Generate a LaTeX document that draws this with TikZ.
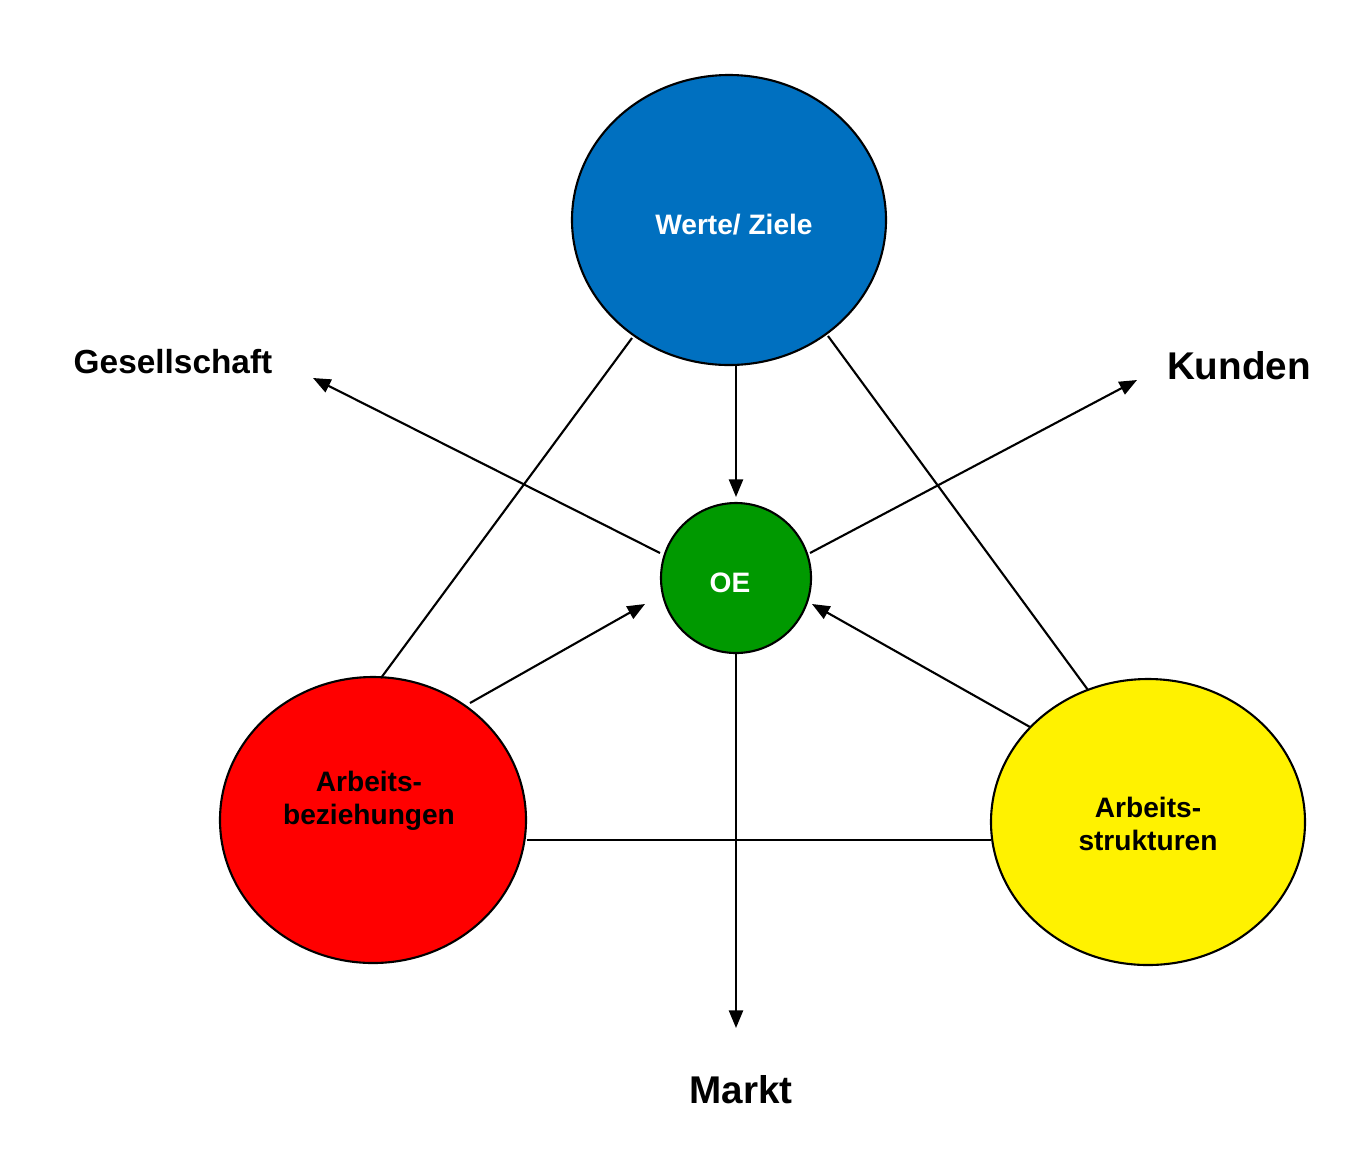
\documentclass[tikz,border=0pt]{standalone}
\usepackage{fontspec}
\setmainfont{Liberation Sans}
\usetikzlibrary{arrows.meta}
\definecolor{cblue}{RGB}{0,112,192}
\definecolor{cgreen}{RGB}{0,153,0}
\begin{document}
\begin{tikzpicture}[x=0.02cm,y=-0.02cm,
  ball/.style={draw=black,line width=1.2pt},
  lbl/.style={font=\bfseries,align=center},
  arr/.style={line width=1.2pt,-{Triangle[length=10pt,width=8pt]}},
  ln/.style={line width=1.2pt}]
\useasboundingbox (0,0) rectangle (1372,1171);
\fill[ball,fill=cblue] (729,220) ellipse [x radius=157,y radius=145];
\node[lbl,text=white,font=\bfseries\fontsize{16}{19}\selectfont] (w) at (734,225) {Werte/ Ziele};
\fill[ball,fill=red] (373,820) ellipse [x radius=153,y radius=143];
\node[lbl,font=\bfseries\fontsize{16}{19}\selectfont] (a) at (369,801) {Arbeits-\\beziehungen};
\fill[ball,fill=yellow] (1148,822) ellipse [x radius=157,y radius=143];
\node[lbl,font=\bfseries\fontsize{16}{19}\selectfont] (s) at (1148,824) {Arbeits-\\strukturen};
\fill[ball,fill=cgreen] (736,578) circle [radius=75];
\node[lbl,text=white,font=\bfseries\fontsize{16}{19}\selectfont] (oe) at (730,583) {OE};
\node[lbl,font=\bfseries\fontsize{19}{22}\selectfont] (g) at (173,362) {Gesellschaft};
\node[lbl,font=\bfseries\fontsize{22}{26}\selectfont] (k) at (1239,366) {Kunden};
\node[lbl,font=\bfseries\fontsize{22}{26}\selectfont] (m) at (741,1090) {Markt};
\coordinate (b1) at (632,338); \coordinate (r1) at (381,678);
\coordinate (b2) at (828,336); \coordinate (y1) at (1088,690);
\coordinate (r2) at (527,840); \coordinate (y2) at (991,840);
\coordinate (bb) at (736,365); \coordinate (ot) at (736,497);
\coordinate (ol) at (660,553); \coordinate (ge) at (313,378);
\coordinate (or) at (810,553); \coordinate (ku) at (1137,380);
\coordinate (ob) at (736,653); \coordinate (ma) at (736,1028);
\coordinate (r3) at (470,703); \coordinate (o1) at (645,604);
\coordinate (y3) at (1030,727); \coordinate (o2) at (812,604);
\draw[ln] (b1)--(r1); \draw[ln] (b2)--(y1); \draw[ln] (r2)--(y2);
\draw[arr] (bb)--(ot); \draw[arr] (ol)--(ge); \draw[arr] (or)--(ku);
\draw[arr] (ob)--(ma); \draw[arr] (r3)--(o1); \draw[arr] (y3)--(o2);
\end{tikzpicture}
\end{document}
